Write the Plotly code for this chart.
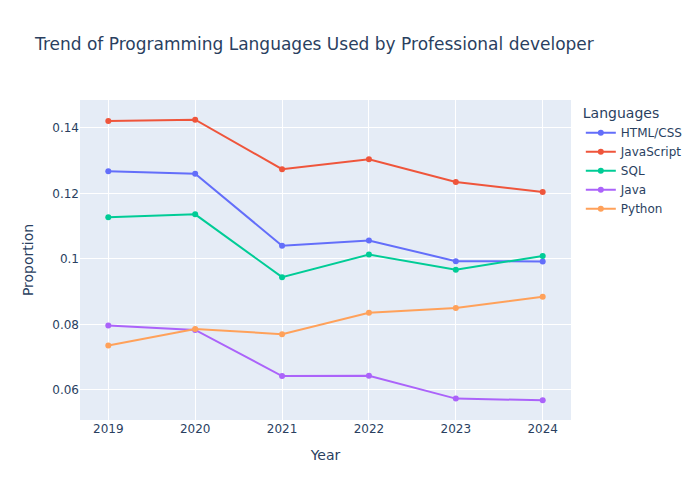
import plotly.graph_objects as go

years = [2019, 2020, 2021, 2022, 2023, 2024]
html_css = [0.1268, 0.1260, 0.1040, 0.1056, 0.0993, 0.0992]
javascript = [0.1421, 0.1425, 0.1274, 0.1304, 0.1235, 0.1204]
sql = [0.1127, 0.1136, 0.0944, 0.1013, 0.0967, 0.1009]
java = [0.0796, 0.0783, 0.0642, 0.0643, 0.0573, 0.0568]
python = [0.0735, 0.0786, 0.0770, 0.0835, 0.0850, 0.0884]

series = [
    ("HTML/CSS", html_css),
    ("JavaScript", javascript),
    ("SQL", sql),
    ("Java", java),
    ("Python", python),
]

fig = go.Figure()
for name, vals in series:
    fig.add_trace(go.Scatter(x=years, y=vals, mode="lines+markers", name=name))

fig.update_layout(
    template="plotly",
    width=700,
    height=500,
    font=dict(family="DejaVu Sans"),
    title=dict(text="Trend of Programming Languages Used by Professional developer"),
    xaxis_title="Year",
    yaxis_title="Proportion",
    legend_title_text="Languages",
)

fig.write_html("out.html")
